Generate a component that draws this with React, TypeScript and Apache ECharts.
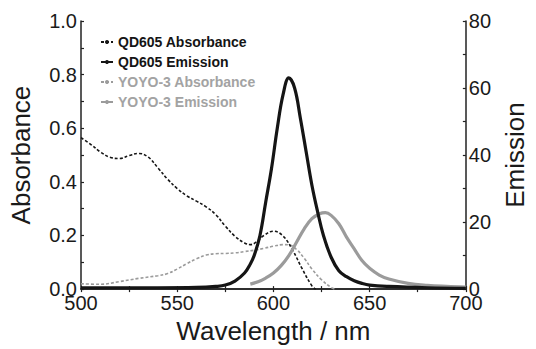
import React, { useEffect, useRef } from "react";
import * as echarts from "echarts";

// Wavelength (nm) and values
const qdAbsWl = [500, 505, 510, 515, 520, 525, 530, 535, 540, 545, 550, 555, 560, 565, 570, 575, 580, 585, 588, 591, 595, 600, 605, 610, 615, 620, 622];
const qdAbsVal = [0.565, 0.54, 0.512, 0.492, 0.487, 0.498, 0.506, 0.492, 0.452, 0.41, 0.375, 0.348, 0.328, 0.307, 0.278, 0.235, 0.197, 0.172, 0.166, 0.175, 0.2, 0.216, 0.198, 0.145, 0.075, 0.012, 0];

const qdEmWl = [500, 520, 540, 560, 570, 575, 580, 585, 588, 590, 593, 596, 599, 602, 605, 608, 611, 614, 617, 620, 623, 626, 630, 634, 638, 642, 646, 650, 660, 680, 700];
const qdEmVal = [0.4, 0.4, 0.4, 0.5, 0.8, 1.2, 2.4, 4.8, 7.5, 10, 16, 26, 36, 48, 58, 63, 60, 51, 41, 31, 23, 16, 9.5, 5.5, 3.7, 2.5, 1.7, 1.2, 0.8, 0.4, 0.2];

const yoAbsWl = [500, 510, 520, 530, 540, 545, 550, 555, 560, 565, 570, 575, 580, 585, 590, 595, 600, 605, 608, 612, 616, 620, 625, 630, 632];
const yoAbsVal = [0.02, 0.018, 0.028, 0.04, 0.05, 0.058, 0.075, 0.095, 0.113, 0.127, 0.132, 0.133, 0.135, 0.14, 0.145, 0.152, 0.16, 0.166, 0.165, 0.148, 0.115, 0.075, 0.035, 0.006, 0];

const yoEmWl = [588, 592, 596, 600, 604, 608, 612, 616, 620, 624, 627, 630, 634, 638, 642, 646, 650, 655, 660, 670, 680, 690, 700];
const yoEmVal = [1.5, 2.2, 3.3, 4.8, 7, 10, 14, 18, 21, 22.5, 22.8, 22, 19.5, 15.5, 12, 8.5, 6.2, 4.2, 3, 1.7, 1.1, 0.8, 0.6];

const seriesNames = ["QD605 Absorbance", "QD605 Emission", "YOYO-3 Absorbance", "YOYO-3 Emission"];

const xTicks = { min: 500, max: 700, interval: 50 };
const absTicks = { min: 0, max: 1, interval: 0.2 };
const emTicks = { min: 0, max: 80, interval: 20 };

const pairs = (xs: number[], ys: number[]) => xs.map((x, i) => [x, ys[i]]);

const FONT = "Liberation Sans, Arial, Helvetica, sans-serif";
const AX = "#222222";
const BLACK = "#151515";
const GRAY = "#9b9b9b";

export default function App() {
  const ref = useRef<HTMLDivElement>(null);
  useEffect(() => {
    if (!ref.current) return;
    const chart = echarts.init(ref.current, undefined, { renderer: "svg" });
    const axisLine = { show: true, lineStyle: { color: AX, width: 1.5 } };
    const tick = { show: true, inside: true, length: 3, lineStyle: { color: AX, width: 1.2 } };
    const minor = { show: true, splitNumber: 2, length: 3, lineStyle: { color: AX, width: 1.2 } };
    const label = { color: "#1a1a1a", fontSize: 20, fontFamily: FONT };
    const title = { fontSize: 26, color: "#1a1a1a", fontFamily: FONT };
    chart.setOption({
      animation: false,
      backgroundColor: "#ffffff",
      grid: { left: 81, right: 63, top: 21, bottom: 53, containLabel: false },
      legend: {
        orient: "vertical",
        left: 100,
        top: 35,
        itemWidth: 12,
        itemHeight: 5,
        itemGap: 6,
        padding: 0,
        textStyle: { fontSize: 14, fontWeight: "bold", fontFamily: FONT, padding: [0, 0, 0, 0] },
        data: [
          { name: seriesNames[0], textStyle: { color: BLACK } },
          { name: seriesNames[1], textStyle: { color: BLACK } },
          { name: seriesNames[2], textStyle: { color: "#a3a3a3" } },
          { name: seriesNames[3], textStyle: { color: "#a3a3a3" } },
        ],
      },
      xAxis: [
        {
          type: "value",
          position: "bottom",
          ...xTicks,
          name: "Wavelength / nm",
          nameLocation: "middle",
          nameGap: 27,
          nameTextStyle: title,
          axisLine,
          axisTick: tick,
          minorTick: minor,
          axisLabel: { ...label, margin: 4 },
          splitLine: { show: false },
        },
        {
          type: "value",
          position: "top",
          ...xTicks,
          axisLine,
          axisTick: tick,
          minorTick: minor,
          axisLabel: { show: false },
          splitLine: { show: false },
        },
      ],
      yAxis: [
        {
          type: "value",
          position: "left",
          ...absTicks,
          name: "Absorbance",
          nameLocation: "middle",
          nameGap: 47,
          nameRotate: 90,
          nameTextStyle: title,
          axisLine,
          axisTick: tick,
          minorTick: minor,
          axisLabel: { ...label, margin: 4, formatter: (v: number) => v.toFixed(1) },
          splitLine: { show: false },
        },
        {
          type: "value",
          position: "right",
          ...emTicks,
          name: "Emission",
          nameLocation: "middle",
          nameGap: 34,
          nameRotate: 90,
          nameTextStyle: title,
          axisLine,
          axisTick: tick,
          minorTick: minor,
          axisLabel: { ...label, margin: 3 },
          splitLine: { show: false },
        },
      ],
      series: [
        {
          name: seriesNames[0],
          type: "line",
          xAxisIndex: 0,
          yAxisIndex: 0,
          data: pairs(qdAbsWl, qdAbsVal),
          smooth: 0.4,
          symbol: "none",
          lineStyle: { color: BLACK, width: 1.6, type: [3, 2] },
          itemStyle: { color: BLACK },
          z: 3,
        },
        {
          name: seriesNames[1],
          type: "line",
          xAxisIndex: 0,
          yAxisIndex: 1,
          data: pairs(qdEmWl, qdEmVal),
          smooth: 0.4,
          symbol: "none",
          lineStyle: { color: BLACK, width: 3.2 },
          itemStyle: { color: BLACK },
          z: 4,
        },
        {
          name: seriesNames[2],
          type: "line",
          xAxisIndex: 0,
          yAxisIndex: 0,
          data: pairs(yoAbsWl, yoAbsVal),
          smooth: 0.4,
          symbol: "none",
          lineStyle: { color: GRAY, width: 1.6, type: [3, 2] },
          itemStyle: { color: GRAY },
          z: 2,
        },
        {
          name: seriesNames[3],
          type: "line",
          xAxisIndex: 0,
          yAxisIndex: 1,
          data: pairs(yoEmWl, yoEmVal),
          smooth: 0.4,
          symbol: "none",
          lineStyle: { color: GRAY, width: 3.2 },
          itemStyle: { color: GRAY },
          z: 3,
        },
      ],
    });
    return () => chart.dispose();
  }, []);
  return <div ref={ref} style={{ position: "fixed", left: 0, top: 0, width: 536, height: 349 }} />;
}
